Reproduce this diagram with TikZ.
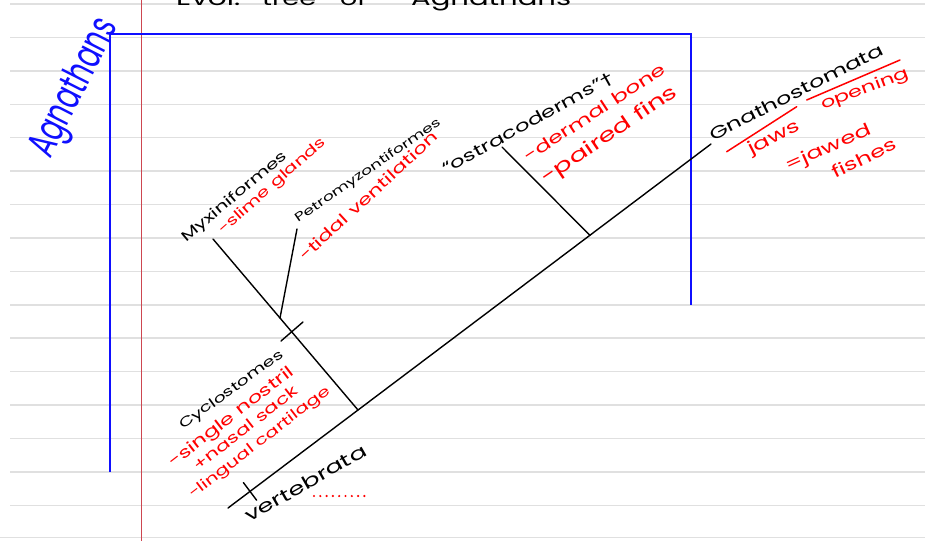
\documentclass[tikz,border=0pt]{standalone}
\usepackage{fontspec}
\setmainfont{Poppins}
\newfontfamily\dejavu{DejaVu Sans}
\definecolor{ruleg}{RGB}{224,224,224}
\definecolor{marginred}{RGB}{205,70,80}
\definecolor{inkblue}{RGB}{15,15,255}
\definecolor{inkred}{RGB}{255,0,0}
\newcommand{\hw}[2]{\scalebox{1}[0.7]{\resizebox{#1pt}{!}{#2}}}
\begin{document}
\begin{tikzpicture}[x=1pt,y=-1pt,
  txt/.style={inner sep=0pt, anchor=base west, text=black},
  redtxt/.style={txt, text=inkred},
  bluetxt/.style={txt, text=inkblue},
  branch/.style={draw=black, line width=1.4pt, line cap=round},
  rule/.style={draw=ruleg, line width=1.5pt},
  bracket/.style={draw=inkblue, line width=2pt},
  redbar/.style={draw=inkred, line width=1.5pt, line cap=round},
  reddots/.style={draw=inkred, line width=2.4pt, line cap=round, dash pattern=on 0pt off 6.3pt}]
\useasboundingbox (0,0) rectangle (925,541);
\fill[white] (0,0) rectangle (925,541);
% ruled paper
\foreach \k in {0,...,15} \draw[rule] (10,{4+33.42*\k}) -- (925,{4+33.42*\k});
\draw[rule] (0,537.5) -- (925,537.5);
\draw[draw=marginred, line width=0.9pt] (141.7,0) -- (141.7,541);
% title (cut at top)
\node[txt] (t1) at (176,5.5) {\hw{64}{Evol.}};
\node[txt] (t2) at (262,5.5) {\hw{54}{tree}};
\node[txt] (t3) at (340,5.5) {\hw{26}{of}};
\node[txt] (t4) at (411,5.5) {\hw{160}{Agnathans}};
% blue bracket
\draw[bracket] (110,472) -- (110,33.5) -- (690.7,33.5) -- (690.7,305);
\node[bluetxt, rotate=63] (agn) at (50,160) {\resizebox{150pt}{30pt}{Agnathans}};
% cladogram points
\coordinate (root) at (228,508);
\coordinate (gn) at (711,144);
\coordinate (vt1) at (243.4,482.6);
\coordinate (vt2) at (256.6,500.2);
\coordinate (cy) at (358,410);
\coordinate (mx) at (213,239);
\coordinate (ct1) at (281,341);
\coordinate (ct2) at (303,322);
\coordinate (pj) at (280,318);
\coordinate (pt) at (297,229);
\coordinate (os) at (590,235.4);
\coordinate (ot) at (502,147);
\draw[branch] (root) -- (gn);
\draw[branch] (vt1) -- (vt2);
\draw[branch] (cy) -- (mx);
\draw[branch] (ct1) -- (ct2);
\draw[branch] (pj) -- (pt);
\draw[branch] (os) -- (ot);
% labels
\node[txt, rotate=40] (myx) at (186,243) {\hw{133}{Myxiniformes}};
\node[redtxt, rotate=41.5] (slime) at (223,235) {\hw{138}{-slime glands}};
\node[txt, rotate=34.6] (pet) at (298,223) {\hw{174}{Petromyzontiformes}};
\node[redtxt, rotate=42.7] (tidal) at (305,262) {\hw{182}{-tidal ventilation}};
\node[txt, rotate=29] (ost) at (446,175) {\hw{192}{“ostracoderms”{\dejavu †}}};
\node[redtxt, rotate=33.2] (derm) at (528,163) {\hw{166}{-dermal bone}};
\node[redtxt, rotate=34.2] (pair) at (546,185) {\hw{160}{-paired fins}};
\node[txt, rotate=27] (gna) at (713,141.5) {\hw{193}{Gnathostomata}};
\coordinate (rb1a) at (726.7,151.7);
\coordinate (rb1b) at (796.7,106.7);
\coordinate (rb2a) at (806.7,100);
\coordinate (rb2b) at (900,60);
\draw[redbar] (rb1a) -- (rb1b);
\draw[redbar] (rb2a) -- (rb2b);
\node[redtxt, rotate=27] (jaws) at (751,155) {\hw{56}{jaws}};
\node[redtxt, rotate=21] (open) at (823,110) {\hw{93}{opening}};
\node[redtxt, rotate=24] (jawed) at (788,171.5) {\hw{92}{=jawed}};
\node[redtxt, rotate=26] (fish) at (835,179) {\hw{70}{fishes}};
\node[txt, rotate=36] (cyc) at (183,430) {\hw{125}{Cyclostomes}};
\node[redtxt, rotate=37.6] (sing) at (173,468) {\hw{154}{-single nostril}};
\node[redtxt, rotate=38.2] (nas) at (198,472) {\hw{128}{+nasal sack}};
\node[redtxt, rotate=37.6] (ling) at (193,499) {\hw{174}{-lingual cartilage}};
\node[txt, rotate=29.7] (vert) at (249,523) {\hw{137}{vertebrata}};
\coordinate (d1) at (314,496);
\coordinate (d2) at (370,496);
\draw[reddots] (d1) -- (d2);
\end{tikzpicture}
\end{document}
